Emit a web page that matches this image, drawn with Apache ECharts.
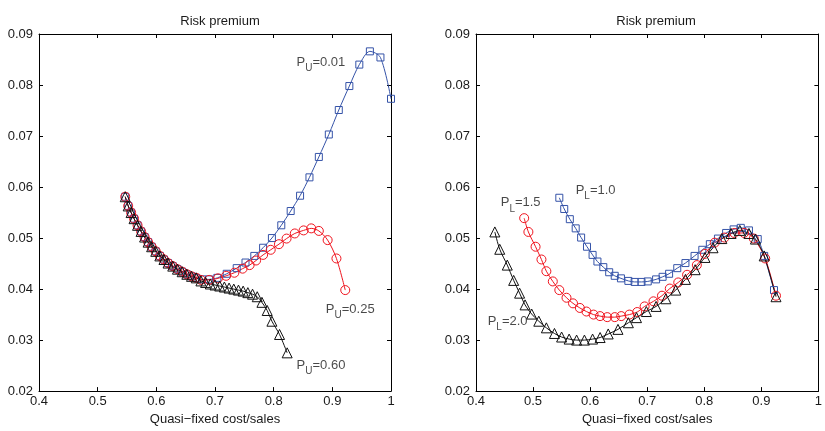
<!DOCTYPE html>
<html><head><meta charset="utf-8">
<script src="https://cdn.jsdelivr.net/npm/echarts@6/dist/echarts.min.js"></script>
<style>html,body{margin:0;padding:0;background:#fff}#c{width:825px;height:431px}</style>
</head><body><div id="c"></div>
<script>
// ---------- data ----------
const chartTitle = 'Risk premium';
const xAxisName = 'Quasi\u2212fixed cost/sales';
const yTicks = [0.02, 0.03, 0.04, 0.05, 0.06, 0.07, 0.08, 0.09];
const xTicks = [0.4, 0.5, 0.6, 0.7, 0.8, 0.9, 1.0];

// Left panel: shared descending branch
const leftCommon = [
  [0.547,0.0581],[0.552,0.0563],[0.557,0.0550],[0.562,0.0538],[0.568,0.0525],
  [0.574,0.0513],[0.580,0.0502],[0.586,0.0492],[0.592,0.0483],[0.599,0.0474],
  [0.606,0.0465],[0.613,0.0458],[0.620,0.0451],[0.628,0.0445],[0.636,0.0439],
  [0.644,0.0434],[0.652,0.0429],[0.660,0.0425],[0.668,0.0422]
];
const leftBlueTail = [
  [0.678,0.0419],[0.690,0.0419],[0.704,0.0422],[0.720,0.0430],[0.737,0.0441],
  [0.752,0.0452],[0.767,0.0465],[0.782,0.0481],[0.797,0.0500],[0.813,0.0525],
  [0.829,0.0553],[0.845,0.0583],[0.861,0.0619],[0.877,0.0659],[0.894,0.0703],
  [0.911,0.0751],[0.929,0.0798],[0.946,0.0840],[0.964,0.0866],[0.982,0.0854],
  [1.000,0.0773]
];
const leftRedTail = [
  [0.676,0.0418],[0.690,0.0418],[0.705,0.0421],[0.719,0.0426],[0.733,0.0432],
  [0.747,0.0440],[0.759,0.0447],[0.770,0.0456],[0.782,0.0467],[0.795,0.0477],
  [0.809,0.0488],[0.822,0.0499],[0.836,0.0509],[0.851,0.0515],[0.864,0.0519],
  [0.877,0.0514],[0.892,0.0496],[0.907,0.0460],[0.922,0.0398]
];
const leftBlackTail = [
  [0.676,0.0416],[0.684,0.0413],[0.692,0.0410],[0.700,0.0408],[0.708,0.0406],
  [0.716,0.0404],[0.724,0.0402],[0.732,0.0400],[0.740,0.0398],[0.748,0.0396],
  [0.756,0.0393],[0.764,0.0390],[0.772,0.0385],[0.780,0.0374],[0.789,0.0358],
  [0.797,0.0337],[0.810,0.0311],[0.823,0.0275]
];
const leftBlue = leftCommon.concat(leftBlueTail);   // P_U=0.01
const leftRed = leftCommon.concat(leftRedTail);     // P_U=0.25
const leftBlack = leftCommon.concat(leftBlackTail); // P_U=0.60

// Right panel
const rightBlue = [ // P_L=1.0
  [0.546,0.0579],[0.5546,0.0557],[0.5644,0.0537],[0.5747,0.0519],[0.5842,0.0501],
  [0.5945,0.0483],[0.6043,0.0467],[0.6128,0.0454],[0.6231,0.0443],[0.6334,0.0433],
  [0.6431,0.0426],[0.654,0.0421],[0.667,0.0416],[0.678,0.0414],[0.690,0.0414],
  [0.701,0.0415],[0.7156,0.0419],[0.727,0.0424],[0.7384,0.0430],[0.7527,0.0441],
  [0.767,0.0451],[0.783,0.0465],[0.7966,0.0477],[0.8098,0.0488],[0.824,0.0499],
  [0.8383,0.0510],[0.8514,0.0517],[0.864,0.0520],[0.8783,0.0515],[0.8937,0.0498],
  [0.905,0.0465],[0.9222,0.0398]
];
const rightRed = [ // P_L=1.5
  [0.4844,0.0539],[0.4918,0.0512],[0.5044,0.0483],[0.5147,0.0458],[0.5233,0.0435],
  [0.5346,0.0415],[0.546,0.0398],[0.5586,0.0383],[0.570,0.0372],[0.582,0.0363],
  [0.5935,0.0356],[0.606,0.0350],[0.6174,0.0347],[0.630,0.0345],[0.6432,0.0345],
  [0.6545,0.0347],[0.6688,0.0350],[0.6825,0.0355],[0.6955,0.0366],[0.711,0.0376],
  [0.7259,0.0387],[0.7396,0.0401],[0.7544,0.0413],[0.7699,0.0428],[0.787,0.0447],
  [0.8012,0.0469],[0.8183,0.0491],[0.8354,0.0501],[0.8526,0.0510],[0.8697,0.0510],
  [0.8868,0.0499],[0.9068,0.0460],[0.9257,0.0387]
];
const rightBlack = [ // P_L=2.0
  [0.433,0.0512],[0.4416,0.0478],[0.4548,0.0447],[0.466,0.0417],[0.4764,0.0392],
  [0.486,0.0369],[0.4976,0.0351],[0.510,0.0337],[0.5233,0.0324],[0.5375,0.0313],
  [0.550,0.0306],[0.5632,0.0302],[0.5763,0.0300],[0.590,0.0300],[0.6043,0.0302],
  [0.6175,0.0305],[0.6317,0.0312],[0.6488,0.0321],[0.667,0.0334],[0.6813,0.0344],
  [0.6985,0.0356],[0.7156,0.0366],[0.7327,0.0381],[0.750,0.0398],[0.767,0.0419],
  [0.784,0.0438],[0.8012,0.0462],[0.8154,0.0481],[0.8308,0.0499],[0.847,0.0509],
  [0.8623,0.0515],[0.8783,0.0509],[0.8897,0.0498],[0.905,0.0465],[0.9257,0.0385]
];

// Annotation labels: [x, y, subscript, value]
const leftLabels = [
  [0.839, 0.0844, 'U', '0.01'],
  [0.8889, 0.0361, 'U', '0.25'],
  [0.8391, 0.0251, 'U', '0.60']
];
const rightLabels = [
  [0.5747, 0.0594, 'L', '1.0'],
  [0.4433, 0.0569, 'L', '1.5'],
  [0.4205, 0.0337, 'L', '2.0']
];

// ---------- styling ----------
const FONT = 'Liberation Sans, Arial, Helvetica, sans-serif';
const TXT = '#1a1a1a';
const BLUE = '#3553a8';
const RED = '#f0141e';
const BLACK = '#111';
const AX = '#000';

const chart = echarts.init(document.getElementById('c'), null, {renderer: 'canvas'});

function xAxes(gi) {
  const base = {
    type: 'value', gridIndex: gi, min: 0.4, max: 1.0, interval: 0.1,
    splitLine: {show: false},
    axisLine: {show: true, lineStyle: {color: AX, width: 1}},
    axisTick: {show: true, inside: true, length: 4, lineStyle: {color: AX}}
  };
  return [
    Object.assign({}, base, {
      position: 'bottom',
      name: xAxisName, nameLocation: 'middle', nameGap: 19,
      nameTextStyle: {fontFamily: FONT, fontSize: 13, color: TXT},
      axisLabel: {fontFamily: FONT, fontSize: 13, color: TXT, margin: 4,
        formatter: v => Math.abs(v - 1) < 1e-9 ? '1' : v.toFixed(1)}
    }),
    Object.assign({}, base, {position: 'top', axisLabel: {show: false}})
  ];
}
function yAxes(gi) {
  const base = {
    type: 'value', gridIndex: gi, min: 0.02, max: 0.09, interval: 0.01,
    splitLine: {show: false},
    axisLine: {show: true, lineStyle: {color: AX, width: 1}},
    axisTick: {show: true, inside: true, length: 4, lineStyle: {color: AX}}
  };
  return [
    Object.assign({}, base, {
      position: 'left',
      axisLabel: {fontFamily: FONT, fontSize: 13, color: TXT, margin: 6,
        formatter: v => v.toFixed(2)}
    }),
    Object.assign({}, base, {position: 'right', axisLabel: {show: false}})
  ];
}

function lineSeries(data, color, symbol, size, xi, yi) {
  return {
    type: 'line', data: data, xAxisIndex: xi, yAxisIndex: yi,
    smooth: 0.3, symbol: symbol, symbolSize: size, showSymbol: true,
    lineStyle: {color: color, width: 1},
    itemStyle: {color: 'rgba(0,0,0,0)', borderColor: color, borderWidth: 1},
    emphasis: {disabled: true}, animation: false, z: 2
  };
}
function labelSeries(list, xi, yi) {
  return {
    type: 'scatter', xAxisIndex: xi, yAxisIndex: yi, symbolSize: 0,
    data: list.map(d => ({value: [d[0], d[1]], sub: d[2], val: d[3]})),
    label: {
      show: true, position: 'right', distance: 0, color: TXT,
      formatter: p => '{p|P}{s|' + p.data.sub + '}{p|=' + p.data.val + '}',
      rich: {
        p: {fontFamily: FONT, fontSize: 13, color: TXT},
        s: {fontFamily: FONT, fontSize: 10, color: TXT, padding: [12, 0, 0, 0]}
      }
    },
    emphasis: {disabled: true}, animation: false, silent: true, z: 5
  };
}

const option = {
  backgroundColor: '#fff',
  animation: false,
  title: [
    {text: chartTitle, left: 215, top: 10, textAlign: 'center',
      textStyle: {fontFamily: FONT, fontSize: 13, fontWeight: 'normal', color: TXT}},
    {text: chartTitle, left: 651, top: 10, textAlign: 'center',
      textStyle: {fontFamily: FONT, fontSize: 13, fontWeight: 'normal', color: TXT}}
  ],
  grid: [
    {left: 39, top: 34, width: 352, height: 364},
    {left: 476, top: 34, width: 350, height: 364}
  ],
  xAxis: xAxes(0).concat(xAxes(1)),
  yAxis: yAxes(0).concat(yAxes(1)),
  series: [
    lineSeries(leftBlue, BLUE, 'rect', 7, 0, 0),
    lineSeries(leftRed, RED, 'circle', 9, 0, 0),
    lineSeries(leftBlack, BLACK, 'triangle', 10, 0, 0),
    labelSeries(leftLabels, 0, 0),
    lineSeries(rightBlue, BLUE, 'rect', 7, 2, 2),
    lineSeries(rightRed, RED, 'circle', 9, 2, 2),
    lineSeries(rightBlack, BLACK, 'triangle', 10, 2, 2),
    labelSeries(rightLabels, 2, 2)
  ]
};
chart.setOption(option);
</script>
</body></html>
